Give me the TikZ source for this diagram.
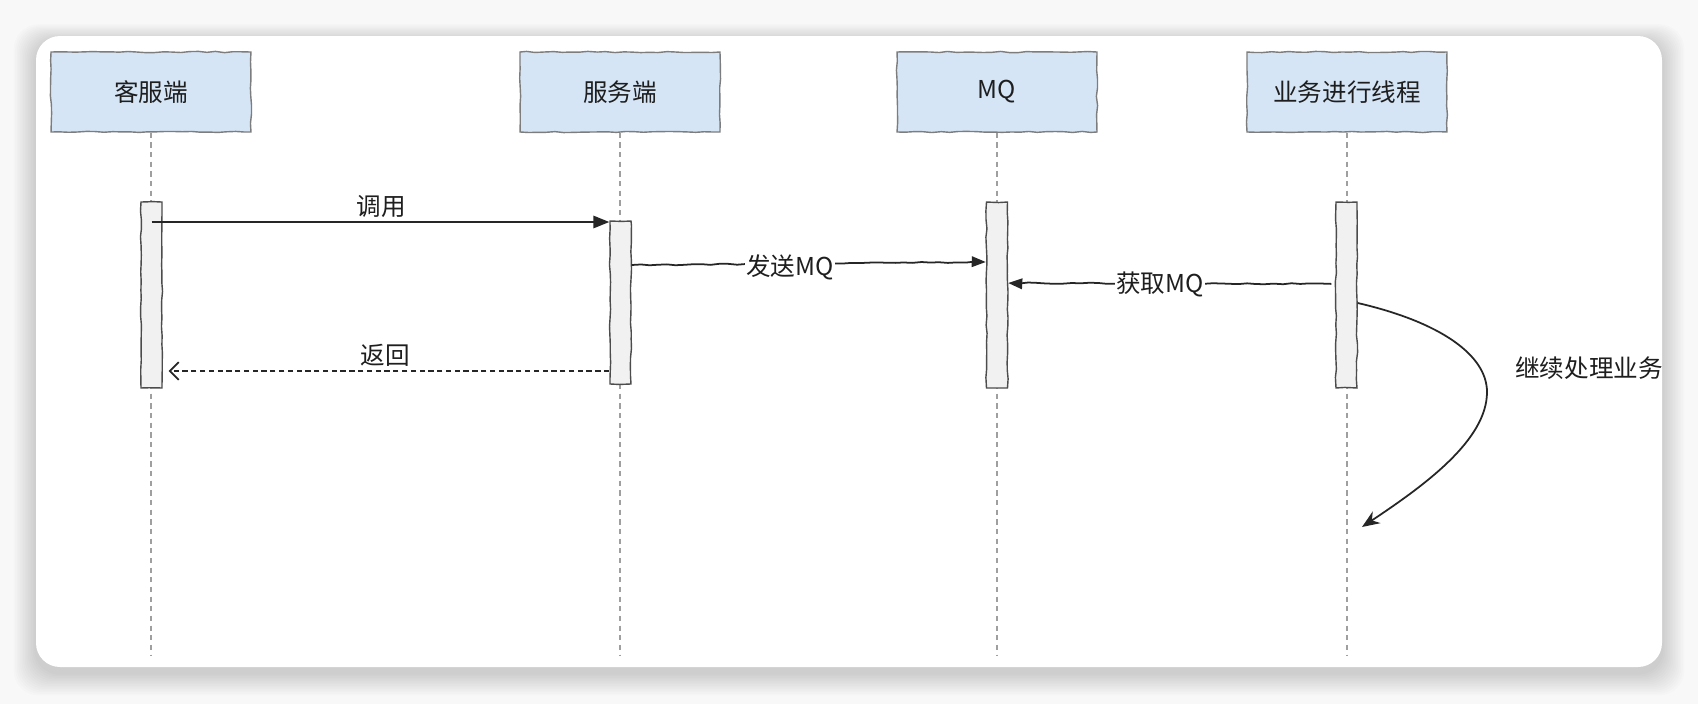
\documentclass[tikz,border=0pt]{standalone}
\usepackage{fontspec}
\setmainfont{Noto Sans CJK SC}
\usepackage{xcolor}
\usepackage{tikz}
\usetikzlibrary{
	arrows.meta,
	calc,
	backgrounds,
	positioning,
	decorations.pathmorphing
}

\definecolor{headblue}{RGB}{213,229,246}
\definecolor{headline}{RGB}{125,125,125}
\definecolor{barfill}{RGB}{241,241,241}
\definecolor{inkgray}{RGB}{30,30,30}
\definecolor{pagegray}{RGB}{248,248,248}

\begin{document}
\begin{tikzpicture}[x=0.02cm, y=-0.02cm,
		font=\fontsize{14}{16}\selectfont, text=inkgray,
		sketch/.style={decorate, decoration={random steps, segment length=5pt, amplitude=0.35pt}},
		head/.style={draw=headline, line width=0.8pt, fill=headblue, minimum width=4cm, minimum height=1.6cm, inner sep=0pt, sketch},
		actbar/.style={draw=black!70, line width=0.8pt, fill=barfill, minimum width=0.42cm, inner sep=0pt, sketch},
		life/.style={draw=gray!75, line width=0.6pt, dash pattern=on 3pt off 2.5pt},
		msg/.style={draw=black!85, line width=1pt},
		lbl/.style={fill=white, inner sep=1pt}]
		\pgfmathsetseed{7}
		\useasboundingbox (0,0) rectangle (1698,704);
		% 底色和卡片
		\fill[pagegray] (0,0) rectangle (1698,704);
		\foreach \i in {1,...,14}
			\fill[black, opacity=0.011, rounded corners=0.5cm]
				(36-1.6*\i,36-1.2*\i+5) rectangle (1662+1.6*\i,667+1.6*\i+6);
		\fill[white, rounded corners=0.48cm] (36,36) rectangle (1662,667);
		% 参与者
		\node[head] (kf) at (151,92) {客服端};
		\node[head] (fw) at (620,92) {服务端};
		\node[head] (mq) at (997,92) {MQ};
		\node[head] (yw) at (1347,92) {业务进行线程};
		% 生命线
		\foreach \n in {kf,fw,mq,yw}
			\draw[life] (\n.south) -- (\n.south |- 0,655);
		% 激活条
		\node[actbar, minimum height=3.72cm] (kfbar) at (151.5,295) {};
		\node[actbar, minimum height=3.26cm] (fwbar) at (620.5,302.5) {};
		\node[actbar, minimum height=3.72cm] (mqbar) at (997,295) {};
		\node[actbar, minimum height=3.72cm] (ywbar) at (1346.5,295) {};
		% 消息
		\draw[msg, -{Triangle[length=9pt,width=7pt]}] (kfbar.center |- 0,222) -- (fwbar.west |- 0,222);
		\node (call) at (381,206) {调用};
		\draw[msg, dash pattern=on 3pt off 2pt, -{Straight Barb[length=5pt,width=10pt]}, shorten >=0.12cm]
			(fwbar.west |- 0,371) -- (kfbar.east |- 0,371);
		\node (back) at (385,355) {返回};
		\draw[msg, sketch, -{Triangle[length=8pt,width=6pt]}] (fwbar.east |- 0,265) -- (mqbar.west |- 0,262);
		\node[lbl] (send) at (790,267) {发送MQ};
		\draw[msg, sketch, -{Triangle[length=8pt,width=6pt]}, shorten <=0.08cm] (ywbar.west |- 0,284) -- (mqbar.east |- 0,283);
		\node[lbl] (fetch) at (1160,284) {获取MQ};
		% 继续处理
		\coordinate (goon-end) at (1362,527);
		\draw[msg, -{Stealth[length=10pt,width=8pt]}] (ywbar.east |- 0,303)
			.. controls (1440,322) and (1487,355) .. (1487,392)
			.. controls (1487,440) and (1425,485) .. (goon-end);
		\node (goon) at (1589,368) {继续处理业务};
	\end{tikzpicture}
\end{document}
